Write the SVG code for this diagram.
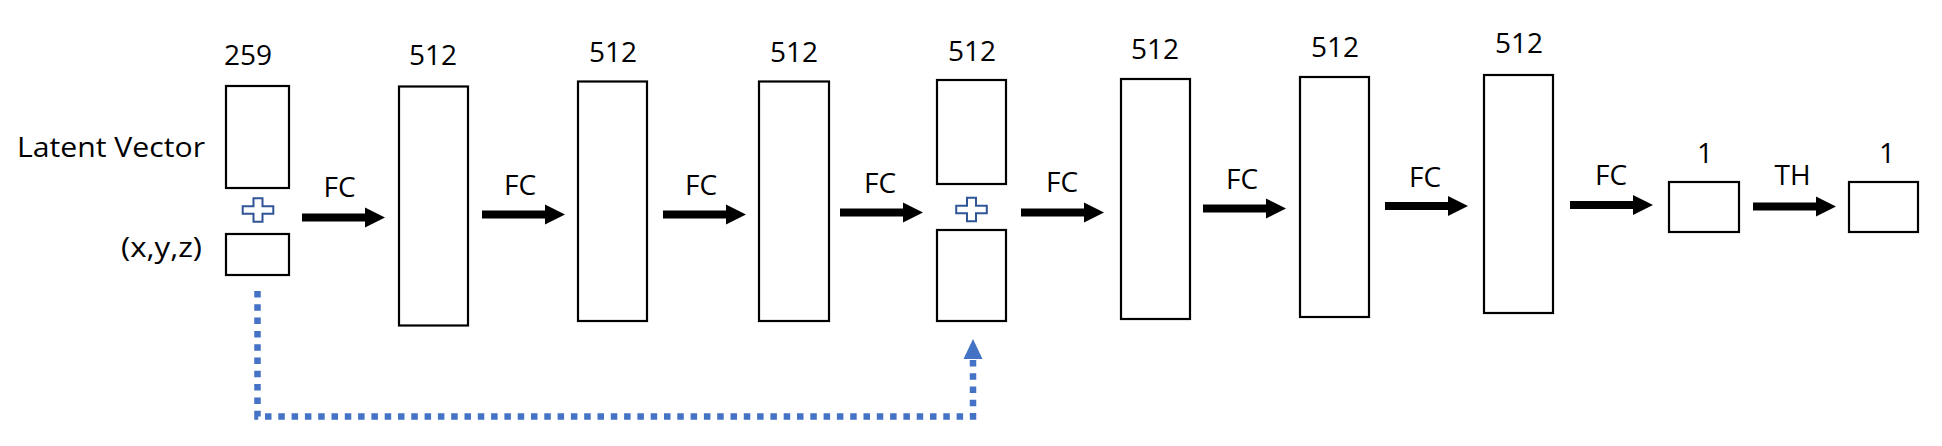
<svg xmlns="http://www.w3.org/2000/svg" xmlns:xlink="http://www.w3.org/1999/xlink" width="1942" height="446" viewBox="0 0 1942 446">
<style>
.box{fill:#fff;stroke:#000;stroke-width:2.2}
.lbl{font-family:"Open Sans","Liberation Sans",sans-serif;font-size:28px;fill:#000}
.mid{text-anchor:middle}
.plus{fill:#fff;stroke:#2F5597;stroke-width:2}
.arr{fill:#000}
.dot{fill:none;stroke:#4472C4;stroke-width:6.5;stroke-dasharray:6.5 6.8}
</style>
<defs>
<path id="arrow" d="M0,-4 H63 V-10 L83,0 L63,10 V4 H0 Z"/>
<path id="plusShape" d="M-4.5,-11.7 H4.5 V-3.8 H15.3 V3.8 H4.5 V11.7 H-4.5 V3.8 H-15.3 V-3.8 H-4.5 Z"/>
</defs>
<rect width="1942" height="446" fill="#fff"/>

<g id="input">
<text class="lbl" x="17" y="157" textLength="188" lengthAdjust="spacingAndGlyphs">Latent Vector</text>
<text class="lbl" x="121" y="257" textLength="81" lengthAdjust="spacingAndGlyphs">(x,y,z)</text>
<text class="lbl mid" x="248" y="65">259</text>
<rect class="box" x="226" y="86" width="63" height="102"/>
<use href="#plusShape" class="plus" transform="translate(258,210)"/>
<rect class="box" x="226" y="234" width="63" height="41"/>
</g>

<g id="layer1">
<text class="lbl mid" x="433" y="65">512</text>
<rect class="box" x="399" y="86.5" width="69" height="239"/>
</g>
<g id="layer2">
<text class="lbl mid" x="613" y="62">512</text>
<rect class="box" x="578" y="81.5" width="69" height="239.5"/>
</g>
<g id="layer3">
<text class="lbl mid" x="794" y="62">512</text>
<rect class="box" x="759" y="81.5" width="70" height="239.5"/>
</g>
<g id="layer4">
<text class="lbl mid" x="972" y="61">512</text>
<rect class="box" x="937" y="80" width="69" height="104"/>
<use href="#plusShape" class="plus" transform="translate(971.5,209.5)"/>
<rect class="box" x="937" y="230" width="69" height="91"/>
</g>
<g id="layer5">
<text class="lbl mid" x="1155" y="59">512</text>
<rect class="box" x="1121" y="79" width="69" height="240"/>
</g>
<g id="layer6">
<text class="lbl mid" x="1335" y="57">512</text>
<rect class="box" x="1300" y="77" width="69" height="240"/>
</g>
<g id="layer7">
<text class="lbl mid" x="1519" y="53">512</text>
<rect class="box" x="1484" y="75" width="69" height="238"/>
</g>
<g id="out1">
<text class="lbl mid" x="1705" y="163">1</text>
<rect class="box" x="1669" y="182" width="70" height="50"/>
</g>
<g id="out2">
<text class="lbl mid" x="1887" y="163">1</text>
<rect class="box" x="1849" y="182" width="69" height="50"/>
</g>

<g id="connectors">
<use href="#arrow" class="arr" transform="translate(302,217.5)"/>
<text class="lbl mid" x="339.5" y="197">FC</text>
<use href="#arrow" class="arr" transform="translate(482,214.5)"/>
<text class="lbl mid" x="520" y="195">FC</text>
<use href="#arrow" class="arr" transform="translate(663,214.5)"/>
<text class="lbl mid" x="701" y="195">FC</text>
<use href="#arrow" class="arr" transform="translate(840,212.5)"/>
<text class="lbl mid" x="880" y="193">FC</text>
<use href="#arrow" class="arr" transform="translate(1021,212.5)"/>
<text class="lbl mid" x="1062" y="192">FC</text>
<use href="#arrow" class="arr" transform="translate(1203,208.5)"/>
<text class="lbl mid" x="1242" y="189">FC</text>
<use href="#arrow" class="arr" transform="translate(1385,206)"/>
<text class="lbl mid" x="1425" y="187">FC</text>
<use href="#arrow" class="arr" transform="translate(1570,205)"/>
<text class="lbl mid" x="1611" y="185">FC</text>
<use href="#arrow" class="arr" transform="translate(1753,206.5)"/>
<text class="lbl mid" x="1792.5" y="185">TH</text>
<path class="dot" d="M257.5,291 V416.5 H973 V358"/>
<polygon points="973,339 982.5,359 963.5,359" fill="#4472C4"/>
</g>
</svg>
